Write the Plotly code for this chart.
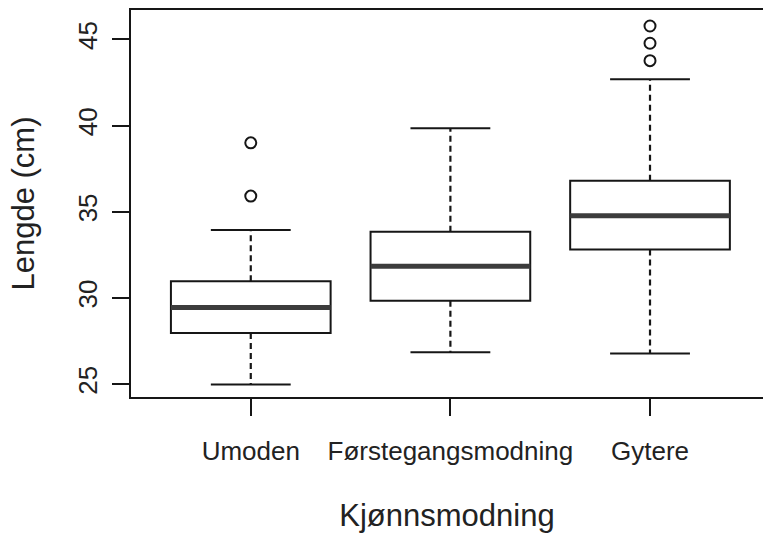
import plotly.graph_objects as go

categories = ["Umoden", "Førstegangsmodning", "Gytere"]
lower_whisker = [24.98, 26.85, 26.78]
q1_vals = [27.96, 29.83, 32.81]
medians = [29.45, 31.84, 34.77]
q3_vals = [30.97, 33.84, 36.80]
upper_whisker = [33.94, 39.84, 42.69]
outliers = [[35.91, 39.0], [], [43.77, 44.78, 45.78]]
y_ticks = [25, 30, 35, 40, 45]

FONT = "Liberation Sans, Arial, sans-serif"
BOX_W = 0.8
CAP_W = 0.4
INK = "#161616"

fig = go.Figure()
for i, cat in enumerate(categories):
    fig.add_trace(go.Box(
        x=[i], q1=[q1_vals[i]], median=[medians[i]], q3=[q3_vals[i]],
        lowerfence=[q1_vals[i]], upperfence=[q3_vals[i]],
        width=BOX_W, fillcolor="white",
        line=dict(color=INK, width=2), boxpoints=False,
        showlegend=False, name=cat, hoverinfo="skip"))
    # dashed whiskers
    fig.add_trace(go.Scatter(
        x=[i, i, None, i, i],
        y=[q3_vals[i], upper_whisker[i], None, q1_vals[i], lower_whisker[i]],
        mode="lines", line=dict(color=INK, width=2.2, dash="6px,4px"),
        showlegend=False, hoverinfo="skip"))
    # staples
    fig.add_trace(go.Scatter(
        x=[i - CAP_W / 2, i + CAP_W / 2, None, i - CAP_W / 2, i + CAP_W / 2],
        y=[upper_whisker[i], upper_whisker[i], None, lower_whisker[i], lower_whisker[i]],
        mode="lines", line=dict(color=INK, width=2),
        showlegend=False, hoverinfo="skip"))
    # thick median
    fig.add_trace(go.Scatter(
        x=[i - BOX_W / 2, i + BOX_W / 2], y=[medians[i], medians[i]],
        mode="lines", line=dict(color="#3c3c3c", width=5),
        showlegend=False, hoverinfo="skip"))
    if outliers[i]:
        fig.add_trace(go.Scatter(
            x=[i] * len(outliers[i]), y=outliers[i], mode="markers",
            marker=dict(symbol="circle-open", size=11, color=INK,
                        line=dict(width=2)),
            showlegend=False, hoverinfo="skip"))

fig.update_layout(
    width=763, height=533,
    margin=dict(l=131, r=0, t=10, b=136),
    plot_bgcolor="white", paper_bgcolor="white",
    font=dict(family=FONT, size=26, color="#222"),
    xaxis=dict(
        range=[-0.6, 2.566], tickvals=[0, 1, 2], ticktext=categories,
        ticks="outside", ticklen=17, tickwidth=2, tickcolor=INK,
        showline=True, linecolor=INK, linewidth=2, mirror=True,
        showgrid=False, zeroline=False, ticklabelstandoff=13,
        title=dict(text="Kjønnsmodning", standoff=39),
    ),
    yaxis=dict(
        range=[24.25, 46.71], tickvals=y_ticks,
        ticks="outside", ticklen=17, tickwidth=2, tickcolor=INK,
        showline=True, linecolor=INK, linewidth=2, mirror=False,
        showgrid=False, zeroline=False, tickangle=-90, ticklabelstandoff=5,
        title=dict(text="Lengde (cm)", standoff=29),
    ),
)

fig.write_html(
    "out.html",
    config={"displayModeBar": False},
    post_script="document.body.style.margin='0';document.body.style.overflow='hidden';",
)
